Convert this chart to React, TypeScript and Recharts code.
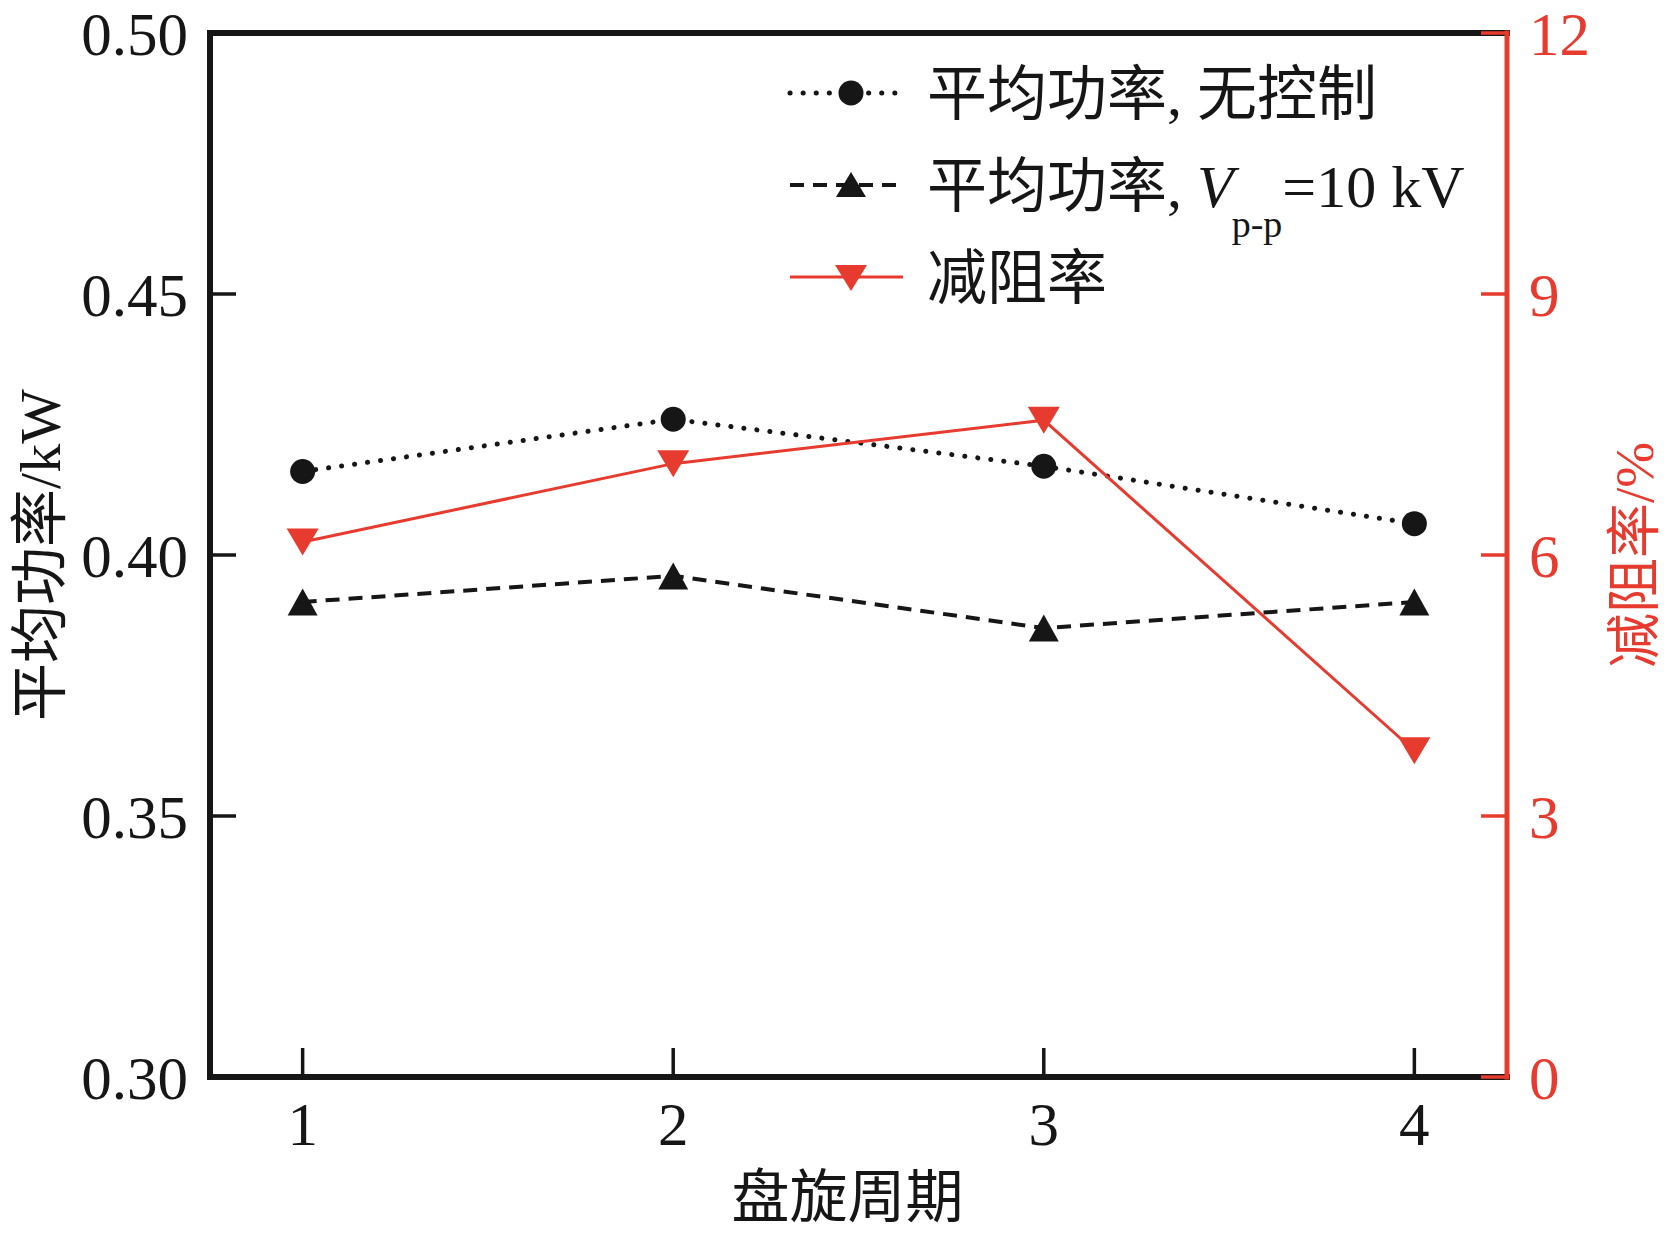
import { LineChart, Line, XAxis, YAxis } from 'recharts'

const cycles = [1, 2, 3, 4]
const powerNoControl = [0.416, 0.426, 0.417, 0.406]
const powerControl = [0.391, 0.396, 0.386, 0.391]
const dragReduction = [6.15, 7.05, 7.55, 3.75]

const xTicks = [1, 2, 3, 4]
const leftTicks = [0.3, 0.35, 0.4, 0.45, 0.5]
const rightTicks = [0, 3, 6, 9, 12]

const legendNames = ['平均功率, 无控制', '平均功率, ', '减阻率']

const data = cycles.map((c, i) => ({
  cycle: c,
  noControl: powerNoControl[i],
  control: powerControl[i],
  drag: dragReduction[i]
}))

const BLACK = '#161616'
const RED = '#e63b2e'
const FONT = '"Liberation Serif", "Noto Sans CJK SC", serif'

function circleDot(props: any) {
  const { cx, cy, index } = props
  return <circle key={`c-${index}`} cx={cx} cy={cy} r={12.5} fill={BLACK} />
}

function upDot(props: any) {
  const { cx, cy, index } = props
  const w = 30
  const h = 27
  return (
    <polygon
      key={`u-${index}`}
      points={`${cx},${cy - h / 2} ${cx - w / 2},${cy + h / 2} ${cx + w / 2},${cy + h / 2}`}
      fill={BLACK}
    />
  )
}

function downDot(props: any) {
  const { cx, cy, index } = props
  const w = 32
  const h = 27
  return (
    <polygon
      key={`d-${index}`}
      points={`${cx - w / 2},${cy - h / 2} ${cx + w / 2},${cy - h / 2} ${cx},${cy + h / 2}`}
      fill={RED}
    />
  )
}

function LegendOverlay() {
  const rows = [93, 185, 277]
  const x1 = 790
  const x2 = 903
  const mx = 851
  const tx = 927
  return (
    <svg
      width={1667}
      height={1233}
      style={{ position: 'absolute', left: 0, top: 0, pointerEvents: 'none' }}
    >
      <line x1={x1} x2={x2} y1={rows[0]} y2={rows[0]} stroke={BLACK} strokeWidth={5} strokeDasharray="0.1 13" strokeLinecap="round" />
      <circle cx={mx} cy={rows[0]} r={12.5} fill={BLACK} />
      <text x={tx} y={rows[0] + 22} fontSize={60} fontFamily={FONT} fill={BLACK}>
        {legendNames[0]}
      </text>

      <line x1={x1} x2={x2} y1={rows[1]} y2={rows[1]} stroke={BLACK} strokeWidth={4} strokeDasharray="14 9" />
      <polygon points={`${mx},${rows[1] - 13} ${mx - 15},${rows[1] + 12} ${mx + 15},${rows[1] + 12}`} fill={BLACK} />
      <text x={tx} y={rows[1] + 22} fontSize={60} fontFamily={FONT} fill={BLACK}>
        <tspan>{legendNames[1]}</tspan>
        <tspan fontStyle="italic">V</tspan>
        <tspan fontSize={38} dy={30} dx={-2}>p-p</tspan>
        <tspan dy={-30}>=10 kV</tspan>
      </text>

      <line x1={x1} x2={x2} y1={rows[2]} y2={rows[2]} stroke={RED} strokeWidth={3} />
      <polygon points={`${mx - 16},${rows[2] - 12} ${mx + 16},${rows[2] - 12} ${mx},${rows[2] + 14}`} fill={RED} />
      <text x={tx} y={rows[2] + 22} fontSize={60} fontFamily={FONT} fill={BLACK}>
        {legendNames[2]}
      </text>
    </svg>
  )
}

export default function App() {
  return (
    <div style={{ position: 'absolute', left: 0, top: 0, width: 1667, height: 1233, background: '#fff' }}>
      <LineChart width={1667} height={1233} data={data} margin={{ top: 0, right: 0, bottom: 0, left: 0 }}>
        <XAxis
          xAxisId="top"
          orientation="top"
          type="number"
          dataKey="cycle"
          domain={[0.75, 4.25]}
          height={33}
          tick={false}
          tickLine={false}
          axisLine={{ stroke: BLACK, strokeWidth: 6, strokeLinecap: 'square' }}
        />
        <XAxis
          dataKey="cycle"
          type="number"
          domain={[0.75, 4.25]}
          ticks={xTicks}
          interval={0}
          height={156}
          tickSize={-29}
          tickMargin={54}
          tick={{ fill: BLACK, fontSize: 61, fontFamily: FONT }}
          tickLine={{ stroke: BLACK, strokeWidth: 3.5 }}
          axisLine={{ stroke: BLACK, strokeWidth: 6, strokeLinecap: 'square' }}
          label={{ value: '盘旋周期', position: 'insideBottom', offset: 16, dx: -11, fill: BLACK, fontSize: 58, fontFamily: FONT }}
        />
        <YAxis
          yAxisId="left"
          domain={[0.3, 0.5]}
          ticks={leftTicks}
          interval={0}
          width={210}
          tickSize={-26}
          tickMargin={48}
          tickFormatter={(v: number) => v.toFixed(2)}
          tick={{ fill: BLACK, fontSize: 61, fontFamily: FONT }}
          tickLine={{ stroke: BLACK, strokeWidth: 3.5 }}
          axisLine={{ stroke: BLACK, strokeWidth: 6, strokeLinecap: 'square' }}
          label={{
            value: '平均功率/kW',
            angle: -90,
            position: 'insideLeft',
            offset: 39,
            fill: BLACK,
            fontSize: 58,
            fontFamily: FONT,
            style: { textAnchor: 'middle' }
          }}
        />
        <YAxis
          yAxisId="right"
          orientation="right"
          domain={[0, 12]}
          ticks={rightTicks}
          interval={0}
          width={160}
          tickSize={-26}
          tickMargin={48}
          tick={{ fill: RED, fontSize: 61, fontFamily: FONT }}
          tickLine={{ stroke: RED, strokeWidth: 3.5 }}
          axisLine={{ stroke: RED, strokeWidth: 5, strokeLinecap: 'square' }}
          label={{
            value: '减阻率/%',
            angle: -90,
            position: 'insideRight',
            offset: 34,
            fill: RED,
            fontSize: 55,
            fontFamily: FONT,
            style: { textAnchor: 'middle' }
          }}
        />
        <Line
          yAxisId="left"
          dataKey="noControl"
          type="linear"
          stroke={BLACK}
          strokeWidth={5}
          strokeDasharray="0.1 13"
          strokeLinecap="round"
          dot={circleDot}
          activeDot={false}
          isAnimationActive={false}
        />
        <Line
          yAxisId="left"
          dataKey="control"
          type="linear"
          stroke={BLACK}
          strokeWidth={4}
          strokeDasharray="14 9"
          dot={upDot}
          activeDot={false}
          isAnimationActive={false}
        />
        <Line
          yAxisId="right"
          dataKey="drag"
          type="linear"
          stroke={RED}
          strokeWidth={3}
          dot={downDot}
          activeDot={false}
          isAnimationActive={false}
        />
      </LineChart>
      <LegendOverlay />
    </div>
  )
}
